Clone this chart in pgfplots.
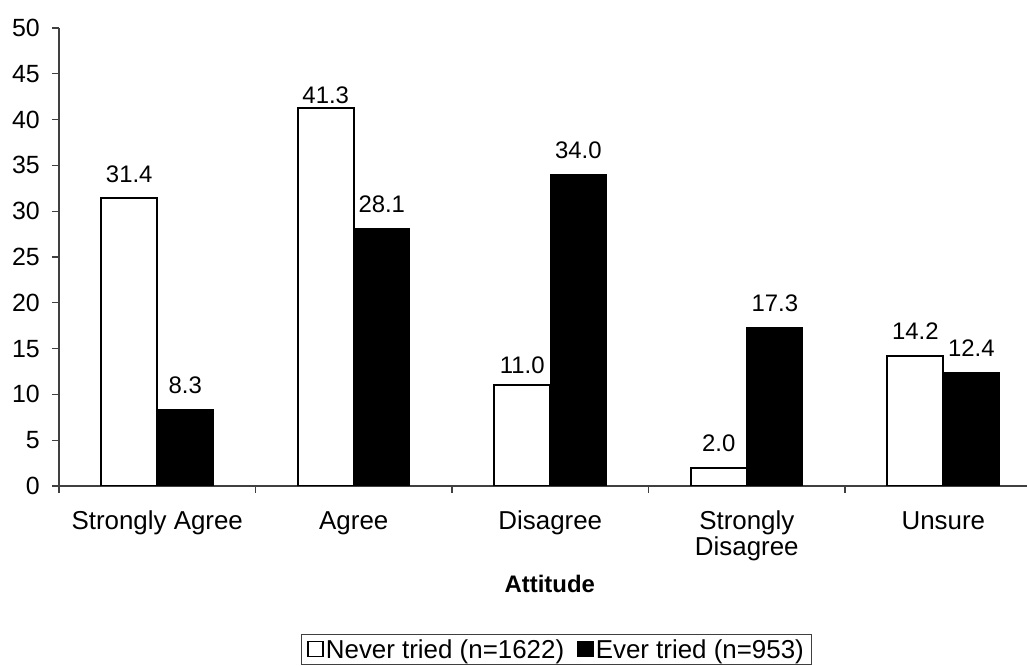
\documentclass[border=0pt]{standalone}
\usepackage{fontspec}
\setmainfont{Liberation Sans}
\usepackage{pgfplots}
\usepackage{pgfplotstable}
\pgfplotsset{compat=1.18}
\newcommand\fbig{\fontsize{26}{26}\selectfont}
\newcommand\fy{\fontsize{25}{27}\selectfont}
\newcommand\fsm{\fontsize{24}{27}\selectfont}
\newcommand\fxl{\fontsize{24}{27}\selectfont}
% x = category index, y = percentage, off = label lift above the bar (px)
\pgfplotstableread{
x y off
0 31.4 16
1 41.3 4
2 11.0 12
3 2.0 16
4 14.2 16
}\never
\pgfplotstableread{
x y off
0 8.3 16
1 28.1 16
2 34.0 16
3 17.3 16
4 12.4 16
}\ever
\begin{document}
\begin{tikzpicture}[x=1bp,y=1bp]
\useasboundingbox (0,0) rectangle (1027,666);
\begin{axis}[
  at={(59bp,180bp)}, anchor=south west,
  scale only axis, width=968bp, height=458bp,
  xmin=-0.5, xmax=4.426, ymin=0, ymax=50,
  ybar=0pt, bar width=0.285,
  axis x line*=bottom, axis y line*=left,
  axis line style={draw=black!75, line width=1.2bp},
  /pgf/number format/assume math mode=true,
  tick align=outside,
  major tick length=7bp,
  ytick={0,5,...,50},
  ytick style={draw=black!75, line width=1.2bp},
  yticklabel style={font=\fy, anchor=east, inner sep=0pt, xshift=-12bp},
  xtick={0,1,2,3,4},
  xticklabels={Strongly Agree, Agree, Disagree, {Strongly\\Disagree}, Unsure},
  xtick style={draw=none},
  xticklabel style={font=\fbig, align=center, anchor=north, inner sep=0pt, yshift=-18bp},
  extra x ticks={-0.5,0.5,1.5,2.5,3.5},
  extra x tick labels={},
  extra x tick style={xtick style={draw=black!75, line width=1.2bp}},
  xlabel={\textbf{Attitude}},
  xlabel style={font=\fxl, at={(axis description cs:0.507,-0.2336)}, anchor=base},
  legend columns=2,
  legend style={at={(axis description cs:0.514,-0.323)}, anchor=north,
    draw=black!75, line width=1.2bp, font=\fbig, inner xsep=6bp, inner ysep=3bp,
    /tikz/every even column/.append style={column sep=11bp}},
  sqlegend/.style={legend image code/.code={\draw[##1, line width=1.6bp] (0bp,-7bp) rectangle (15bp,8bp);}},
  visualization depends on={\thisrow{off} \as \labeloff},
  nodes near coords={\pgfmathprintnumber[fixed,fixed zerofill,precision=1]{\pgfplotspointmeta}},
  nodes near coords style={font=\fsm, anchor=base, inner sep=0pt, yshift=\labeloff bp, text=black},
]
\addplot[fill=white, draw=black, line width=2bp, sqlegend] table[x=x, y=y] {\never};
\addlegendentry{Never tried (n=1622)}
\addplot[fill=black, draw=black, line width=1bp, sqlegend] table[x=x, y=y] {\ever};
\addlegendentry{Ever tried (n=953)}
\end{axis}
\end{tikzpicture}
\end{document}
